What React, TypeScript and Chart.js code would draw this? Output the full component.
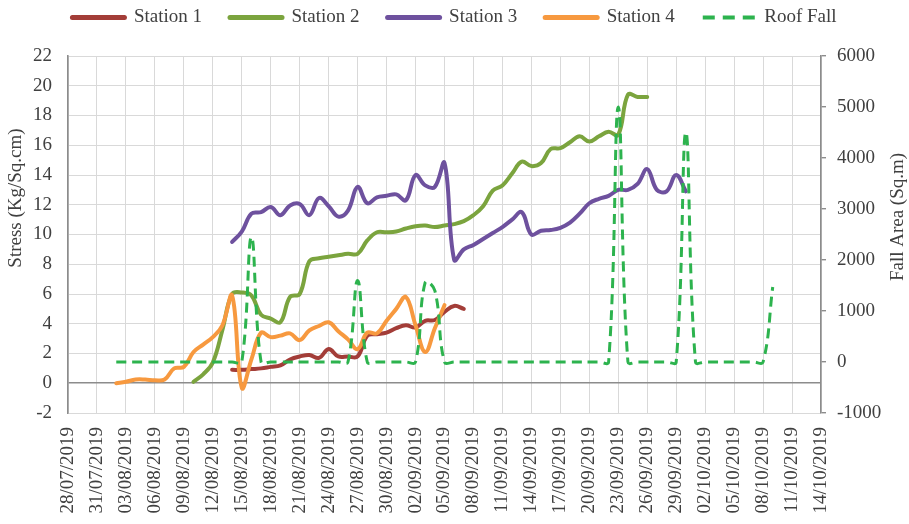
import React, { useEffect, useRef } from 'react';
import { Chart, registerables } from 'chart.js';

Chart.register(...registerables);

// ---------- data ----------
const dates = [
  '28/07/2019', '29/07/2019', '30/07/2019', '31/07/2019',
  '01/08/2019', '02/08/2019', '03/08/2019', '04/08/2019', '05/08/2019', '06/08/2019', '07/08/2019', '08/08/2019',
  '09/08/2019', '10/08/2019', '11/08/2019', '12/08/2019', '13/08/2019', '14/08/2019', '15/08/2019', '16/08/2019',
  '17/08/2019', '18/08/2019', '19/08/2019', '20/08/2019', '21/08/2019', '22/08/2019', '23/08/2019', '24/08/2019',
  '25/08/2019', '26/08/2019', '27/08/2019', '28/08/2019', '29/08/2019', '30/08/2019', '31/08/2019',
  '01/09/2019', '02/09/2019', '03/09/2019', '04/09/2019', '05/09/2019', '06/09/2019', '07/09/2019', '08/09/2019',
  '09/09/2019', '10/09/2019', '11/09/2019', '12/09/2019', '13/09/2019', '14/09/2019', '15/09/2019', '16/09/2019',
  '17/09/2019', '18/09/2019', '19/09/2019', '20/09/2019', '21/09/2019', '22/09/2019', '23/09/2019', '24/09/2019',
  '25/09/2019', '26/09/2019', '27/09/2019', '28/09/2019', '29/09/2019', '30/09/2019',
  '01/10/2019', '02/10/2019', '03/10/2019', '04/10/2019', '05/10/2019', '06/10/2019', '07/10/2019', '08/10/2019',
  '09/10/2019', '10/10/2019', '11/10/2019', '12/10/2019', '13/10/2019', '14/10/2019',
];

const tickLabels = [
  '28/07/2019', '31/07/2019', '03/08/2019', '06/08/2019', '09/08/2019', '12/08/2019', '15/08/2019',
  '18/08/2019', '21/08/2019', '24/08/2019', '27/08/2019', '30/08/2019', '02/09/2019', '05/09/2019',
  '08/09/2019', '11/09/2019', '14/09/2019', '17/09/2019', '20/09/2019', '23/09/2019', '26/09/2019',
  '29/09/2019', '02/10/2019', '05/10/2019', '08/10/2019', '11/10/2019', '14/10/2019',
];

const station1Start = '14/08/2019';
const station1 = [0.9, 0.9, 0.95, 1.0, 1.1, 1.2, 1.6, 1.8, 1.9, 1.7, 2.3, 1.8, 1.8, 1.8, 3.2, 3.3, 3.4, 3.7, 3.9,
  3.75, 4.2, 4.25, 4.8, 5.2, 5.0];

const station2Start = '10/08/2019';
const station2 = [0.1, 0.6, 1.4, 3.6, 6.0, 6.1, 5.9, 4.6, 4.35, 4.1, 5.8, 6.0, 8.2, 8.4, 8.5, 8.6, 8.7, 8.7, 9.6,
  10.15, 10.15, 10.2, 10.4, 10.55, 10.6, 10.5, 10.6, 10.7, 10.9, 11.3, 11.9, 12.95, 13.3, 14.1, 14.9, 14.6, 14.8,
  15.75, 15.8, 16.2, 16.6, 16.25, 16.6, 16.9, 16.7, 19.4, 19.25, 19.25];

const station3Start = '14/08/2019';
const station3 = [9.5, 10.2, 11.4, 11.5, 11.85, 11.3, 11.95, 12.05, 11.3, 12.45, 11.9, 11.2, 11.6, 13.2, 12.1, 12.5,
  12.6, 12.7, 12.3, 14.0, 13.3, 13.2, 14.8, 8.3, 9.0, 9.3, 9.7, 10.1, 10.5, 11.0, 11.5, 10.0, 10.25, 10.3, 10.45,
  10.8, 11.4, 12.1, 12.4, 12.6, 13.0, 13.0, 13.4, 14.4, 13.0, 12.9, 14.0, 12.9];

const station4Start = '02/08/2019';
const station4 = [0.0, 0.1, 0.25, 0.25, 0.2, 0.25, 1.0, 1.1, 2.1, 2.6, 3.1, 3.9, 5.9, -0.3, 1.6, 3.4, 3.1, 3.2,
  3.35, 2.9, 3.55, 3.85, 4.1, 3.5, 2.95, 2.3, 3.4, 3.35, 4.2, 5.0, 5.8, 3.9, 2.1, 3.7, 5.25];

const roofFallStart = '02/08/2019';
const roofFall = [0, 0, 0, 0, 0, 0, 0, 0, 0, 0, 0, 0, 0, 0, 2450, 0, 0, 0, 0, 0, 0, 0, 0, 0, 0, 1600, 0, 0, 0, 0,
  0, 0, 1560, 1400, 0, 0, 0, 0, 0, 0, 0, 0, 0, 0, 0, 0, 0, 0, 0, 0, 0, 0, 5000, 0, 0, 0, 0, 0, 0, 4500, 0, 0, 0,
  0, 0, 0, 0, 0, 1470];

const seriesNames = ['Station 1', 'Station 2', 'Station 3', 'Station 4', 'Roof Fall'];
const yTitle = 'Stress (Kg/Sq.cm)';
const y1Title = 'Fall Area (Sq.m)';

// ---------- helpers ----------
const place = (start: string, values: number[]) => {
  const i = dates.indexOf(start);
  return dates.map((_, k) => (k >= i && k < i + values.length ? values[k - i] : null));
};

const FAMILY = "'Liberation Serif', 'Times New Roman', serif";
const TEXT = '#404040';
const GRID = '#d9d9d9';
const AXIS = '#8c8c8c';

const legendFit = {
  id: 'legendFit',
  beforeInit(chart: any) {
    const lg = chart.legend;
    if (!lg) return;
    const orig = lg.fit;
    lg.fit = function () {
      orig.call(this);
      this.height = 76;
    };
  },
};

const axisTitles = {
  id: 'axisTitles',
  afterDraw(chart: any) {
    const ctx = chart.ctx;
    ctx.save();
    ctx.font = `19px ${FAMILY}`;
    ctx.fillStyle = TEXT;
    ctx.textAlign = 'center';
    ctx.textBaseline = 'middle';
    ctx.translate(16, 198);
    ctx.rotate(-Math.PI / 2);
    ctx.fillText(yTitle, 0, 0);
    ctx.restore();
    ctx.save();
    ctx.font = `19px ${FAMILY}`;
    ctx.fillStyle = TEXT;
    ctx.textAlign = 'center';
    ctx.textBaseline = 'middle';
    ctx.translate(898, 217);
    ctx.rotate(-Math.PI / 2);
    ctx.fillText(y1Title, 0, 0);
    ctx.restore();
  },
};

export default function App() {
  const ref = useRef<HTMLCanvasElement>(null);

  useEffect(() => {
    const canvas = ref.current;
    if (!canvas) return;
    const font = { family: FAMILY, size: 19 };
    const lineBase = {
      borderWidth: 4,
      pointRadius: 0,
      pointHoverRadius: 0,
      tension: 0.4,
      borderCapStyle: 'round' as const,
      borderJoinStyle: 'round' as const,
      yAxisID: 'y',
    };

    const chart = new Chart(canvas, {
      type: 'line',
      data: {
        labels: dates,
        datasets: [
          { ...lineBase, label: seriesNames[0], data: place(station1Start, station1), borderColor: '#A33D38', backgroundColor: '#A33D38', order: 5 },
          { ...lineBase, label: seriesNames[1], data: place(station2Start, station2), borderColor: '#7BA43E', backgroundColor: '#7BA43E', order: 4 },
          { ...lineBase, label: seriesNames[2], data: place(station3Start, station3), borderColor: '#6E519E', backgroundColor: '#6E519E', order: 3 },
          { ...lineBase, label: seriesNames[3], data: place(station4Start, station4), borderColor: '#F7993F', backgroundColor: '#F7993F', order: 2 },
          {
            label: seriesNames[4], data: place(roofFallStart, roofFall), borderColor: '#2DB34E', backgroundColor: '#2DB34E',
            borderWidth: 3, borderDash: [10, 6], pointRadius: 0, pointHoverRadius: 0, tension: 0.4, yAxisID: 'y1', order: 1,
          },
        ] as any,
      },
      options: {
        responsive: false,
        maintainAspectRatio: false,
        animation: false,
        devicePixelRatio: 1,
        events: [],
        layout: { padding: { top: -20, left: 0, right: 0, bottom: 0 } },
        plugins: {
          tooltip: { enabled: false },
          legend: {
            position: 'top',
            labels: {
              usePointStyle: true,
              pointStyle: 'line',
              pointStyleWidth: 52,
              padding: 28,
              font,
              color: TEXT,
              sort: (a: any, b: any) => a.datasetIndex - b.datasetIndex,
              generateLabels: (c: any) => {
                const items = (Chart.defaults.plugins.legend.labels as any).generateLabels(c);
                items.forEach((it: any) => {
                  const ds: any = c.data.datasets[it.datasetIndex];
                  it.lineWidth = ds.borderWidth + 1;
                  it.lineDash = ds.borderDash ? [12, 8] : [];
                  it.lineCap = ds.borderDash ? 'butt' : 'round';
                  it.strokeStyle = ds.borderColor;
                });
                return items;
              },
            },
          },
        },
        scales: {
          x: {
            type: 'category',
            offset: false,
            grid: { color: GRID, lineWidth: 1, drawTicks: false },
            border: { display: false },
            ticks: {
              autoSkip: false,
              minRotation: 90,
              maxRotation: 90,
              padding: 14,
              font,
              color: TEXT,
              callback: (_v: any, index: number) => (tickLabels.includes(dates[index]) ? dates[index] : null),
            },
            afterFit: (s: any) => { s.height = 111; },
          },
          y: {
            position: 'left',
            min: -2,
            max: 22,
            ticks: { stepSize: 2, font, color: TEXT, padding: 16, callback: (v: any) => String(v) },
            grid: {
              drawTicks: false,
              color: (c: any) => (c.tick && c.tick.value === 0 ? AXIS : GRID),
              lineWidth: (c: any) => (c.tick && c.tick.value === 0 ? 1.6 : 1),
            },
            border: { display: true, color: AXIS, width: 1.6 },
            afterFit: (s: any) => { s.width = 68; },
          },
          y1: {
            position: 'right',
            min: -1000,
            max: 6000,
            ticks: { stepSize: 1000, font, color: TEXT, padding: 11, callback: (v: any) => String(v) },
            grid: { drawOnChartArea: false, drawTicks: true, tickLength: 5, color: AXIS, lineWidth: 1.4 },
            border: { display: true, color: AXIS, width: 1.6 },
            afterFit: (s: any) => { s.width = 88; },
          },
        },
      },
      plugins: [legendFit, axisTitles],
    } as any);

    return () => chart.destroy();
  }, []);

  return (
    <div style={{ position: 'absolute', left: 0, top: 0, width: 909, height: 524, background: '#fff' }}>
      <canvas ref={ref} width={909} height={524} style={{ display: 'block', width: 909, height: 524 }} />
    </div>
  );
}
